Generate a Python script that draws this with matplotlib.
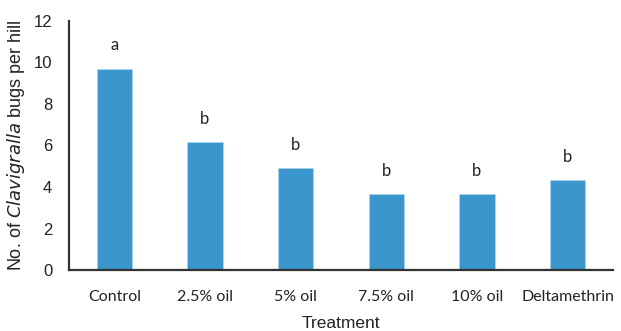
import matplotlib.pyplot as plt

treatments = ["Control", "2.5% oil", "5% oil", "7.5% oil", "10% oil", "Deltamethrin"]
bugs_per_hill = [9.70, 6.17, 4.90, 3.65, 3.65, 4.34]
groups = ["a", "b", "b", "b", "b", "b"]
y_ticks = [0, 2, 4, 6, 8, 10, 12]

fig = plt.figure(figsize=(6.21, 3.31), dpi=100)
ax = fig.add_axes([0.111, 0.184, 0.876, 0.753])

x = range(len(treatments))
ax.bar(x, bugs_per_hill, width=0.39, color="#3a96cc", edgecolor="#a8d4ee", linewidth=0.6)

for xi, v, g in zip(x, bugs_per_hill, groups):
    ax.annotate(g, (xi, v), xytext=(0, 11), textcoords="offset points",
                ha="center", va="bottom", fontsize=12, family="Lato", color="#222222")

ax.set_xlim(-0.5, len(treatments) - 0.5)
ax.set_ylim(0, 12)
ax.set_yticks(y_ticks)
ax.set_yticklabels([str(t) for t in y_ticks], fontsize=12, family="Liberation Sans", color="#222222")
ax.set_xticks(list(x))
ax.set_xticklabels(treatments, fontsize=11.5, family="Lato", color="#222222")
ax.tick_params(axis="both", length=0)
ax.tick_params(axis="x", pad=14)
ax.tick_params(axis="y", pad=12)

for side in ["top", "right"]:
    ax.spines[side].set_visible(False)
for side in ["left", "bottom"]:
    ax.spines[side].set_color("#333333")
    ax.spines[side].set_linewidth(1.6)

ax.set_ylabel("No. of $\\it{Clavigralla}$ bugs per hill", fontsize=13,
              family="Liberation Sans", color="#222222", labelpad=5)
ax.set_xlabel("Treatment", fontsize=12.5, family="Liberation Sans", color="#222222", labelpad=9)

fig.savefig("out.png", dpi=100)
